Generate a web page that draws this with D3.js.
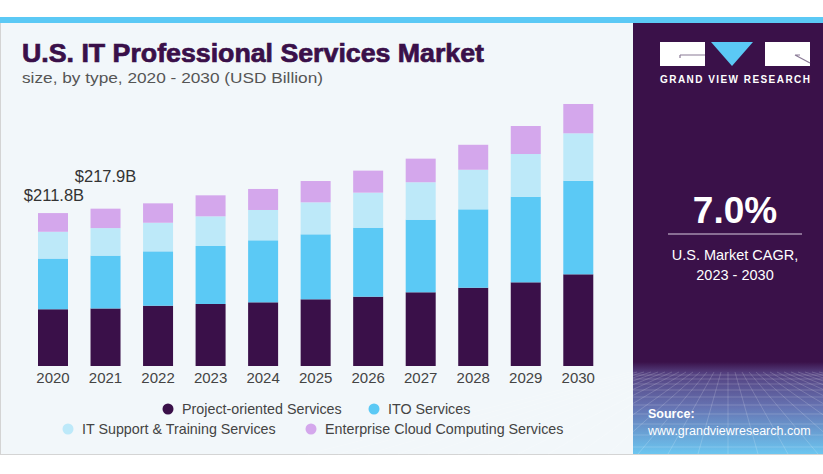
<!DOCTYPE html>
<html>
<head>
<meta charset="utf-8">
<script src="https://cdn.jsdelivr.net/npm/d3@7"></script>
<style>
html,body{margin:0;padding:0;background:#fff;}
svg{display:block;}
text{font-family:"Liberation Sans", Arial, sans-serif;}
</style>
</head>
<body>
<svg id="chart" width="823" height="474"></svg>
<script>
// ---- data ----
const years = ["2020","2021","2022","2023","2024","2025","2026","2027","2028","2029","2030"];
const projectOriented = [78.6, 79.7, 83.5, 85.9, 88.2, 92.4, 96.0, 102.1, 108.4, 115.9, 127.0];
const itoServices     = [70.2, 73.2, 75.3, 80.3, 85.9, 90.0, 95.6, 100.6, 108.6, 118.6, 129.6];
const itSupport       = [37.1, 38.1, 39.6, 41.1, 42.0, 44.3, 48.5, 51.8, 54.8, 59.1, 65.7];
const enterpriseCloud = [25.9, 26.9, 26.9, 29.1, 29.1, 29.5, 30.5, 32.7, 34.6, 38.8, 40.6];
const seriesNames = ["Project-oriented Services","ITO Services","IT Support & Training Services","Enterprise Cloud Computing Services"];
const seriesColors = ["#3a1049","#5bc9f5","#bde9f9","#d4a7ec"];
const totalLabels = ["$211.8B","$217.9B"];

const svg = d3.select("#chart");

// ---- card background ----
svg.append("rect").attr("x",0.5).attr("y",17.5).attr("width",830).attr("height",437).attr("fill","#f2f7fa").attr("stroke","#d4d4d4");
svg.append("rect").attr("x",0).attr("y",17).attr("width",823).attr("height",6).attr("fill","#5bc9f5");

// right panel
const defs = svg.append("defs");
const g1 = defs.append("linearGradient").attr("id","btm").attr("x1",0).attr("y1",0).attr("x2",0).attr("y2",1);
g1.append("stop").attr("offset","0%").attr("stop-color","#3a1149");
g1.append("stop").attr("offset","12%").attr("stop-color","#54407f");
g1.append("stop").attr("offset","50%").attr("stop-color","#6675b4");
g1.append("stop").attr("offset","100%").attr("stop-color","#6cc6f0");
svg.append("rect").attr("x",633).attr("y",23).attr("width",190).attr("height",431).attr("fill","#3a1149");
svg.append("rect").attr("x",633).attr("y",362).attr("width",190).attr("height",92).attr("fill","url(#btm)");
// perspective grid
const grid = svg.append("g").attr("stroke","#ffffff").attr("stroke-opacity",0.25).attr("stroke-width",0.7);
const hy = [375,379,384,390,397,405,414,424,435,447];
hy.forEach(y=>grid.append("line").attr("x1",633).attr("x2",823).attr("y1",y).attr("y2",y));
d3.range(-14,15).forEach(i=>{
  grid.append("line").attr("x1",728+i*7).attr("y1",372).attr("x2",728+i*30).attr("y2",454);
});

// logo
const logo = svg.append("g");
logo.append("rect").attr("x",660).attr("y",42).attr("width",45).attr("height",24).attr("fill","#fff");
logo.append("path").attr("d","M680,55 H705 M680,55 V58").attr("stroke","#8a7a96").attr("stroke-width",1.2).attr("fill","none");
logo.append("path").attr("d","M711,42 L753,42 L732,66 Z").attr("fill","#5bc9f5");
logo.append("rect").attr("x",765).attr("y",42).attr("width",45).attr("height",24).attr("fill","#fff");
logo.append("path").attr("d","M795,55 L810,63 M795,55 L800,55").attr("stroke","#8a7a96").attr("stroke-width",1.2).attr("fill","none");
svg.append("text").attr("x",735).attr("y",83).attr("text-anchor","middle").attr("fill","#fff")
  .attr("font-size",10).attr("font-weight","bold").attr("textLength",150).attr("lengthAdjust","spacing").text("GRAND VIEW RESEARCH");

svg.append("text").attr("x",735).attr("y",223).attr("text-anchor","middle").attr("fill","#fff")
  .attr("font-size",37).attr("font-weight","bold").text("7.0%");
svg.append("line").attr("x1",668).attr("x2",802).attr("y1",234).attr("y2",234).attr("stroke","#d8cde0").attr("stroke-width",1);
svg.append("text").attr("x",735).attr("y",260).attr("text-anchor","middle").attr("fill","#fff")
  .attr("font-size",14.5).text("U.S. Market CAGR,");
svg.append("text").attr("x",735).attr("y",280).attr("text-anchor","middle").attr("fill","#fff")
  .attr("font-size",14.5).text("2023 - 2030");
svg.append("text").attr("x",648).attr("y",418).attr("fill","#fff").attr("font-size",12.5).attr("font-weight","bold").text("Source:");
svg.append("text").attr("x",648).attr("y",435).attr("fill","#fff").attr("font-size",12.5).text("www.grandviewresearch.com");

// ---- titles ----
svg.append("text").attr("x",22).attr("y",62).attr("fill","#3a1049").attr("stroke","#3a1049").attr("stroke-width",0.7)
  .attr("font-size",25).attr("font-weight","900")
  .attr("textLength",462).attr("lengthAdjust","spacingAndGlyphs").text("U.S. IT Professional Services Market");
svg.append("text").attr("x",22).attr("y",83).attr("fill","#555").attr("font-size",15)
  .attr("textLength",301).attr("lengthAdjust","spacingAndGlyphs").text("size, by type, 2020 - 2030 (USD Billion)");

// ---- scales ----
const x = d3.scaleBand().domain(years).range([22.24, 609.04]).paddingInner(0.429).paddingOuter(0.3);
const y = d3.scaleLinear().domain([0,300]).range([366, 366-216.6]);

const rows = years.map((yr,i)=>({year:yr, s0:projectOriented[i], s1:itoServices[i], s2:itSupport[i], s3:enterpriseCloud[i]}));
const stack = d3.stack().keys(["s0","s1","s2","s3"]);
const layers = stack(rows);

const bars = svg.append("g");
layers.forEach((layer,li)=>{
  bars.selectAll(null).data(layer).enter().append("rect")
    .attr("x",d=>x(d.data.year))
    .attr("width",x.bandwidth())
    .attr("y",d=>y(d[1]))
    .attr("height",d=>y(d[0])-y(d[1]))
    .attr("fill",seriesColors[li]);
});

// total labels for first two years
totalLabels.forEach((t,i)=>{
  const top = layers[3][i][1];
  svg.append("text").attr("x",x(years[i])+x.bandwidth()/2 + (i===0? 1 : 0)).attr("y",y(top)-(i===0?12:27))
    .attr("text-anchor","middle").attr("fill","#333").attr("font-size",16.5).text(t);
});

// x axis
const xAxis = svg.append("g").attr("transform","translate(0,366)").call(d3.axisBottom(x).tickSize(0).tickPadding(6));
xAxis.select(".domain").remove();
xAxis.selectAll("text").attr("font-size",15).attr("fill","#444").attr("font-family","Liberation Sans, Arial, sans-serif");

// legend
const legendItems = [
  {i:0, cx:168, cy:409},
  {i:1, cx:374, cy:409},
  {i:2, cx:68, cy:429},
  {i:3, cx:311, cy:429}
];
const lg = svg.append("g");
legendItems.forEach(it=>{
  lg.append("circle").attr("cx",it.cx).attr("cy",it.cy).attr("r",5.5).attr("fill",seriesColors[it.i]);
  lg.append("text").attr("x",it.cx+14).attr("y",it.cy+5).attr("fill","#444").attr("font-size",14.3).text(seriesNames[it.i]);
});
</script>
</body>
</html>
